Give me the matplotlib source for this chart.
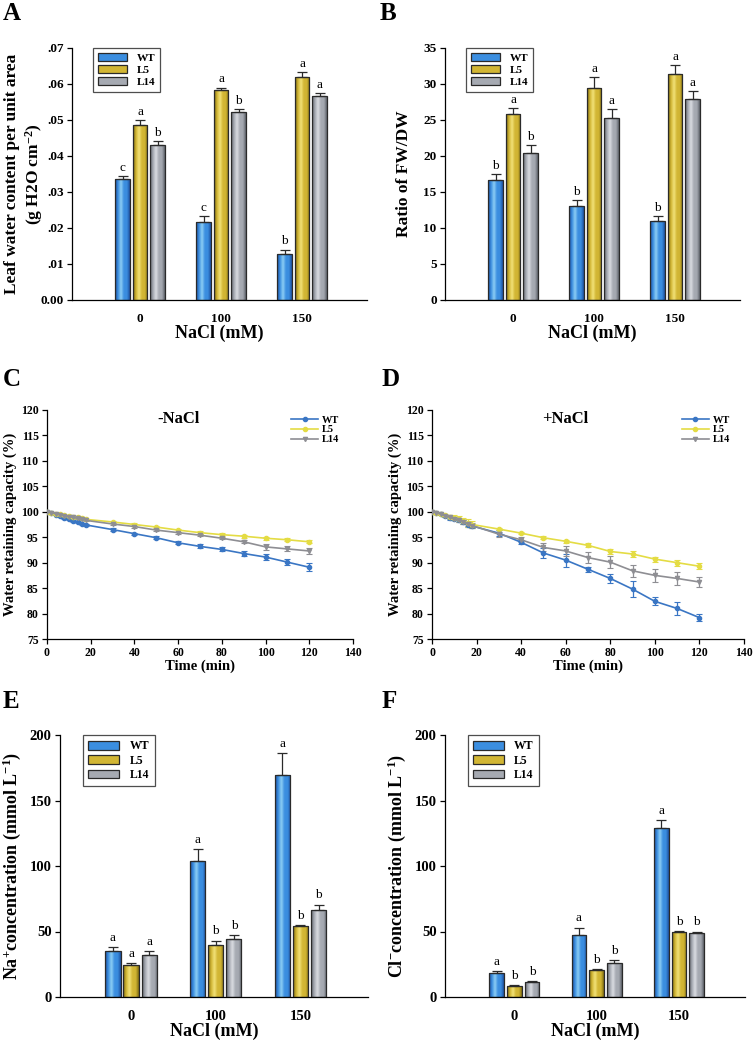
import numpy as np
import matplotlib
matplotlib.use("Agg")
import matplotlib.pyplot as plt
from matplotlib.colors import LinearSegmentedColormap
from matplotlib.patches import Patch
from matplotlib.lines import Line2D

plt.rcParams['font.family'] = ['Liberation Serif', 'DejaVu Serif']
plt.rcParams['font.weight'] = 'bold'
plt.rcParams['mathtext.default'] = 'regular'

# ---- data ----
lines_names = ["WT", "L5", "L14"]
nacl_labels = ["0", "100", "150"]

# A: leaf water content per unit area
lwc_mean = {"WT": [0.0337, 0.0217, 0.0127], "L5": [0.0487, 0.0582, 0.0620], "L14": [0.0430, 0.0523, 0.0567]}
lwc_err = {"WT": [0.0008, 0.0016, 0.0013], "L5": [0.0013, 0.0008, 0.0014], "L14": [0.0011, 0.0008, 0.0008]}
lwc_sig = {"WT": ["c", "c", "b"], "L5": ["a", "a", "a"], "L14": ["b", "b", "a"]}

# B: FW/DW
fwdw_mean = {"WT": [16.7, 13.0, 11.0], "L5": [25.9, 29.5, 31.4], "L14": [20.4, 25.3, 27.9]}
fwdw_err = {"WT": [0.8, 0.9, 0.7], "L5": [0.7, 1.5, 1.2], "L14": [1.1, 1.2, 1.1]}
fwdw_sig = {"WT": ["b", "b", "b"], "L5": ["a", "a", "a"], "L14": ["b", "a", "a"]}

# C / D: water retaining capacity
time_min = [0, 2, 4, 6, 8, 10, 12, 14, 16, 18, 30, 40, 50, 60, 70, 80, 90, 100, 110, 120]
wrc_c = {
    "WT": [100, 99.7, 99.4, 99.1, 98.8, 98.5, 98.2, 97.9, 97.6, 97.4, 96.5, 95.7, 94.9, 93.9, 93.2, 92.6, 91.8, 91.1, 90.1, 89.1],
    "L5": [100, 99.8, 99.6, 99.5, 99.3, 99.2, 99.0, 98.9, 98.7, 98.5, 98.0, 97.5, 97.0, 96.4, 95.9, 95.5, 95.2, 94.8, 94.5, 94.1],
    "L14": [100, 99.8, 99.6, 99.4, 99.2, 99.0, 98.9, 98.7, 98.5, 98.3, 97.6, 97.1, 96.4, 95.9, 95.4, 94.8, 94.1, 93.1, 92.7, 92.3],
}
wrc_c_err = {
    "WT": [0.1, 0.1, 0.1, 0.1, 0.2, 0.2, 0.2, 0.2, 0.2, 0.2, 0.3, 0.2, 0.3, 0.3, 0.4, 0.4, 0.4, 0.6, 0.6, 0.8],
    "L5": [0.1, 0.1, 0.1, 0.1, 0.1, 0.1, 0.1, 0.1, 0.1, 0.1, 0.2, 0.2, 0.2, 0.3, 0.3, 0.3, 0.3, 0.3, 0.3, 0.3],
    "L14": [0.1, 0.1, 0.1, 0.1, 0.1, 0.1, 0.1, 0.1, 0.1, 0.1, 0.2, 0.2, 0.2, 0.2, 0.2, 0.2, 0.3, 0.6, 0.5, 0.5],
}
wrc_d = {
    "WT": [100, 99.8, 99.5, 99.2, 98.7, 98.6, 98.3, 98.0, 97.5, 97.2, 95.8, 94.0, 91.9, 90.5, 88.7, 86.9, 84.8, 82.4, 81.0, 79.2],
    "L5": [100, 99.8, 99.6, 99.3, 99.0, 98.8, 98.5, 98.2, 97.8, 97.5, 96.6, 95.8, 94.9, 94.2, 93.4, 92.2, 91.7, 90.7, 90.0, 89.3],
    "L14": [100, 99.8, 99.5, 99.2, 98.9, 98.6, 98.3, 98.0, 97.6, 97.3, 95.6, 94.5, 93.0, 92.3, 91.0, 90.1, 88.4, 87.5, 86.9, 86.2],
}
wrc_d_err = {
    "WT": [0.1, 0.1, 0.2, 0.2, 0.3, 0.3, 0.3, 0.4, 0.4, 0.4, 0.6, 0.4, 0.9, 1.3, 0.5, 0.9, 1.5, 0.8, 1.3, 0.7],
    "L5": [0.1, 0.2, 0.2, 0.3, 0.4, 0.5, 0.6, 0.6, 0.7, 0.6, 0.2, 0.2, 0.3, 0.3, 0.4, 0.4, 0.5, 0.5, 0.6, 0.6],
    "L14": [0.1, 0.1, 0.2, 0.2, 0.3, 0.3, 0.3, 0.4, 0.4, 0.4, 0.5, 0.5, 0.8, 0.9, 1.0, 1.2, 1.2, 1.3, 1.3, 0.9],
}

# E: Na+ concentration
na_mean = {"WT": [35, 103.5, 169.5], "L5": [24.5, 40, 54.5], "L14": [32, 44.5, 66.5]}
na_err = {"WT": [3, 9.5, 16.5], "L5": [1.5, 3, 0.5], "L14": [3, 2.5, 4]}
na_sig = {"WT": ["a", "a", "a"], "L5": ["a", "b", "b"], "L14": ["a", "b", "b"]}

# F: Cl- concentration
cl_mean = {"WT": [18, 47, 129], "L5": [8.5, 20.5, 49.5], "L14": [11.5, 26, 48.5]}
cl_err = {"WT": [2, 6, 6], "L5": [0.5, 1, 1], "L14": [0.8, 2, 1.5]}
cl_sig = {"WT": ["a", "a", "a"], "L5": ["b", "b", "b"], "L14": ["b", "b", "b"]}

lwc_ticks = [0, 0.01, 0.02, 0.03, 0.04, 0.05, 0.06, 0.07]
lwc_ticklabels = ["0.00", ".01", ".02", ".03", ".04", ".05", ".06", ".07"]

# bar gradients: edge, mid, light
bar_cols = {
    "WT": ["#1d4f9e", "#3b8ee0", "#8fd0f5"],
    "L5": ["#7d6a10", "#d2b634", "#f3e37a"],
    "L14": ["#5f636b", "#a6aab2", "#dcdee3"],
}
line_cols = {"WT": "#3a76c4", "L5": "#e4dc44", "L14": "#8e8e93"}
line_marks = {"WT": "o", "L5": "o", "L14": "v"}

W, H = 754, 1043
fig = plt.figure(figsize=(W / 100, H / 100), dpi=100)


def px_axes(left, top, right, bottom):
    return fig.add_axes([left / W, (H - bottom) / H, (right - left) / W, (bottom - top) / H])


def style_axes(ax, tick_size):
    for s in ["top", "right"]:
        ax.spines[s].set_visible(False)
    for s in ["left", "bottom"]:
        ax.spines[s].set_linewidth(0.9)
    ax.tick_params(direction="out", labelsize=tick_size, width=0.9, length=3.5, pad=2.5)


def bar_panel(ax, means, errs, sigs, ylim, sig_pad, tick_size, sig_size):
    width, off = 0.18, 0.215
    cats = np.arange(1, 4)
    for i, name in enumerate(lines_names):
        x = cats + (i - 1) * off
        edge, mid, light = bar_cols[name]
        cmap = LinearSegmentedColormap.from_list(name, [edge, mid, light, mid, mid, edge], N=128)
        grad = np.linspace(0, 1, 64)[None, :]
        bars = ax.bar(x, means[name], width, color="none", edgecolor="#2a2a2a", linewidth=0.9, zorder=3)
        for b in bars:
            im = ax.imshow(grad, extent=[b.get_x(), b.get_x() + b.get_width(), 0, b.get_height()],
                           aspect="auto", cmap=cmap, zorder=2, interpolation="bicubic")
            im.set_clip_path(b)
        ax.errorbar(x, means[name], yerr=[np.zeros(3), errs[name]], fmt="none", ecolor="#2a2a2a",
                    elinewidth=0.9, capsize=3.5, capthick=0.9, zorder=4)
        for xi, m, e, s in zip(x, means[name], errs[name], sigs[name]):
            ax.text(xi, m + e + sig_pad, s, ha="center", va="bottom", fontsize=sig_size, fontweight="normal")
    ax.set_xlim(0.16, 3.8)
    ax.set_ylim(*ylim)
    ax.set_xticks(cats)
    ax.set_xticklabels(nacl_labels)
    style_axes(ax, tick_size)
    ax.tick_params(axis="x", length=0, pad=9)
    handles = [Patch(facecolor=bar_cols[n][1], edgecolor="#2a2a2a", linewidth=0.9, label=n) for n in lines_names]
    return handles


def bar_legend(ax, handles, size, loc):
    leg = ax.legend(handles=handles, loc="upper left", bbox_to_anchor=loc, fontsize=size, frameon=True,
                    fancybox=False, edgecolor="#222222", handlelength=2.6, handleheight=0.75,
                    handletextpad=0.9, labelspacing=0.2, borderpad=0.45, borderaxespad=0)
    leg.get_frame().set_linewidth(0.9)


def line_panel(ax, data, err, title):
    for name in lines_names:
        ax.errorbar(time_min, data[name], yerr=err[name], color=line_cols[name], marker=line_marks[name],
                    markersize=3, linewidth=1.2, elinewidth=0.9, capsize=2, capthick=0.8,
                    ecolor=line_cols[name], zorder=3)
    ax.set_xlim(0, 140)
    ax.set_ylim(75, 120)
    ax.set_xticks(np.arange(0, 141, 20))
    ax.set_yticks(np.arange(75, 121, 5))
    style_axes(ax, 8.5)
    ax.text(60, 118.3, title, ha="center", va="center", fontsize=12, fontweight="bold")
    handles = [Line2D([], [], color=line_cols[n], marker=line_marks[n], markersize=3, linewidth=1.2, label=n)
               for n in lines_names]
    ax.legend(handles=handles, loc="upper right", bbox_to_anchor=(0.97, 0.995), frameon=False, fontsize=7.5,
              handlelength=2.6, handletextpad=0.4, labelspacing=0.05, borderaxespad=0)
    ax.set_xlabel("Time (min)", fontsize=10.5, fontweight="bold", labelpad=0)
    ax.set_ylabel("Water retaining capacity (%)", fontsize=10.5, fontweight="bold", labelpad=3)


# A
axA = px_axes(72, 48, 367, 300)
h = bar_panel(axA, lwc_mean, lwc_err, lwc_sig, (0, 0.07), 0.0006, 9.5, 9.5)
axA.set_yticks(lwc_ticks)
axA.set_yticklabels(lwc_ticklabels)
axA.set_ylabel("Leaf water content per unit area\n(g H2O cm$^{-2}$)", fontsize=12.5, fontweight="bold",
               linespacing=1.25)
axA.yaxis.set_label_coords(-0.09, 0.5)
axA.set_xlabel("NaCl (mM)", fontsize=13, fontweight="bold", labelpad=0)
bar_legend(axA, h, 8, (0.07, 1.0))

# B
axB = px_axes(445, 48, 740, 300)
h = bar_panel(axB, fwdw_mean, fwdw_err, fwdw_sig, (0, 35), 0.3, 9.5, 9.5)
axB.set_yticks(np.arange(0, 36, 5))
axB.set_ylabel("Ratio of FW/DW", fontsize=12.5, fontweight="bold", labelpad=8)
axB.set_xlabel("NaCl (mM)", fontsize=13, fontweight="bold", labelpad=0)
bar_legend(axB, h, 8, (0.07, 1.0))

# C, D
axC = px_axes(47, 410, 353, 639)
line_panel(axC, wrc_c, wrc_c_err, "-NaCl")
axD = px_axes(432, 410, 744, 639)
line_panel(axD, wrc_d, wrc_d_err, "+NaCl")

# E
axE = px_axes(60, 735, 368, 997)
h = bar_panel(axE, na_mean, na_err, na_sig, (0, 200), 2.5, 10.5, 9.5)
axE.set_yticks(np.arange(0, 201, 50))
axE.set_ylabel("Na$^{+}$concentration (mmol L$^{-1}$)", fontsize=13, fontweight="bold", labelpad=5)
axE.set_xlabel("NaCl (mM)", fontsize=13, fontweight="bold", labelpad=0)
bar_legend(axE, h, 8.5, (0.075, 1.0))

# F
axF = px_axes(445, 735, 745, 997)
h = bar_panel(axF, cl_mean, cl_err, cl_sig, (0, 200), 2.5, 10.5, 9.5)
axF.set_yticks(np.arange(0, 201, 50))
axF.set_ylabel("Cl$^{-}$concentration (mmol L$^{-1}$)", fontsize=13, fontweight="bold", labelpad=5)
axF.set_xlabel("NaCl (mM)", fontsize=13, fontweight="bold", labelpad=0)
bar_legend(axF, h, 8.5, (0.075, 1.0))

# panel letters
for letter, (x, y) in zip("ABCDEF", [(3, 2), (380, 2), (3, 368), (382, 368), (3, 690), (382, 690)]):
    fig.text(x / W, 1 - y / H, letter, fontsize=18, fontweight="bold", ha="left", va="top")

fig.savefig("out.png", dpi=100)
